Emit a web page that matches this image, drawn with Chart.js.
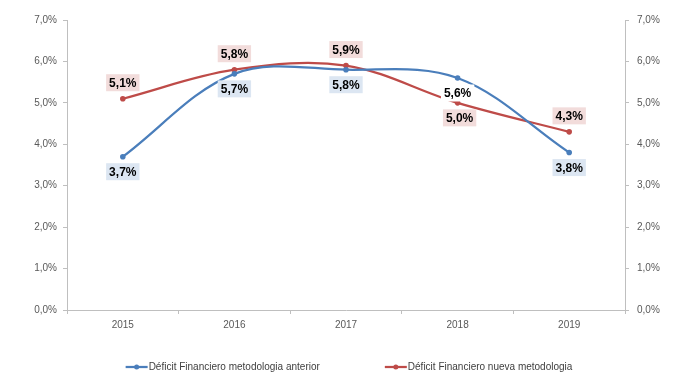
<!DOCTYPE html>
<html>
<head>
<meta charset="utf-8">
<script src="https://cdn.jsdelivr.net/npm/chart.js@4/dist/chart.umd.min.js"></script>
<style>
html,body{margin:0;padding:0;background:#fff;}
#wrap{width:680px;height:383px;position:relative;}
</style>
</head>
<body>
<div id="wrap"><canvas id="c" width="680" height="383"></canvas></div>
<script>
const categories = ['2015','2016','2017','2018','2019'];
const seriesAnterior = [3.7, 5.7, 5.8, 5.6, 3.8];
const seriesNueva = [5.1, 5.8, 5.9, 5.0, 4.3];
const seriesNames = ['Déficit Financiero metodologia anterior', 'Déficit Financiero nueva metodologia'];
const yTicks = [0,1,2,3,4,5,6,7];

const fmt = v => v.toFixed(1).replace('.', ',') + '%';
const FONT = "'Liberation Sans', Arial, sans-serif";

const labelPlugin = {
  id: 'valueLabels',
  afterDatasetsDraw(chart) {
    const ctx = chart.ctx;
    chart.data.datasets.forEach((ds, di) => {
      const meta = chart.getDatasetMeta(di);
      const cfg = ds.valueLabels;
      meta.data.forEach((pt, i) => {
        const txt = fmt(ds.data[i]);
        ctx.save();
        ctx.font = 'bold 12px ' + FONT;
        const w = ctx.measureText(txt).width + 6;
        const h = 17;
        const dy = cfg.pos[i] === 'above' ? -16 : 15;
        const cx = pt.x + (cfg.dx ? cfg.dx[i] : 0), cy = pt.y + dy;
        ctx.fillStyle = cfg.bg[i];
        ctx.fillRect(cx - w/2, cy - h/2, w, h);
        ctx.fillStyle = '#000';
        ctx.textAlign = 'center';
        ctx.textBaseline = 'middle';
        ctx.fillText(txt, cx, cy + 1);
        ctx.restore();
      });
    });
  }
};

const legendPlugin = {
  id: 'customLegend',
  afterDraw(chart) {
    const ctx = chart.ctx;
    ctx.save();
    ctx.font = '10px ' + FONT;
    const items = chart.data.datasets.map(ds => ({label: ds.label, color: ds.borderColor, w: ctx.measureText(ds.label).width}));
    const marker = 23, gap = 65;
    const total = items.reduce((s, it) => s + marker + it.w, 0) + gap * (items.length - 1);
    let x = 349 - total / 2;
    const y = 367;
    items.forEach(it => {
      ctx.strokeStyle = it.color;
      ctx.lineWidth = 2.25;
      ctx.beginPath();
      ctx.moveTo(x, y); ctx.lineTo(x + 22, y);
      ctx.stroke();
      ctx.fillStyle = it.color;
      ctx.beginPath();
      ctx.arc(x + 11, y, 2.5, 0, Math.PI * 2);
      ctx.fill();
      ctx.fillStyle = '#404040';
      ctx.textBaseline = 'middle';
      ctx.textAlign = 'left';
      ctx.fillText(it.label, x + marker, y);
      x += marker + it.w + gap;
    });
    ctx.restore();
  }
};

const axisColor = '#bfbfbf';
const tickFont = {family: FONT, size: 10};

new Chart(document.getElementById('c'), {
  type: 'line',
  data: {
    labels: categories,
    datasets: [
      {
        label: seriesNames[0],
        data: seriesAnterior,
        borderColor: '#4A7EBB',
        backgroundColor: '#4A7EBB',
        borderWidth: 2.25,
        pointRadius: 2.8,
        pointBorderWidth: 0,
        tension: 0.35,
        yAxisID: 'y',
        valueLabels: {pos: ['below','below','below','below','below'], bg: ['#DCE6F2','#DCE6F2','#DCE6F2','#FFFFFF','#DCE6F2']}
      },
      {
        label: seriesNames[1],
        data: seriesNueva,
        borderColor: '#BE4B48',
        backgroundColor: '#BE4B48',
        borderWidth: 2.25,
        pointRadius: 2.8,
        pointBorderWidth: 0,
        tension: 0.35,
        yAxisID: 'y',
        valueLabels: {pos: ['above','above','above','below','above'], dx: [0,0,0,2,0], bg: ['#F2DCDB','#F2DCDB','#F2DCDB','#F2DCDB','#F2DCDB']}
      }
    ]
  },
  options: {
    responsive: false,
    animation: false,
    layout: {padding: {left: 0, right: 0, top: 20, bottom: 48}},
    plugins: {legend: {display: false}, tooltip: {enabled: false}},
    scales: {
      x: {
        offset: true,
        grid: {offset: true, drawOnChartArea: false, drawTicks: true, tickLength: 4, color: axisColor},
        border: {display: true, color: axisColor},
        ticks: {color: '#595959', font: tickFont, padding: 5},
        afterFit(s) { s.height = 25; }
      },
      y: {
        position: 'left',
        min: 0, max: 7,
        afterBuildTicks(s) { s.ticks = yTicks.map(v => ({value: v})); },
        grid: {drawOnChartArea: false, drawTicks: true, tickLength: 4, color: axisColor},
        border: {display: true, color: axisColor},
        ticks: {color: '#595959', font: tickFont, padding: 6, callback: v => fmt(v)},
        afterFit(s) { s.width = 67; }
      },
      y1: {
        position: 'right',
        min: 0, max: 7,
        afterBuildTicks(s) { s.ticks = yTicks.map(v => ({value: v})); },
        grid: {drawOnChartArea: false, drawTicks: true, tickLength: 4, color: axisColor},
        border: {display: true, color: axisColor},
        ticks: {color: '#595959', font: tickFont, padding: 8, callback: v => fmt(v)},
        afterFit(s) { s.width = 55; }
      }
    }
  },
  plugins: [labelPlugin, legendPlugin]
});
</script>
</body>
</html>
